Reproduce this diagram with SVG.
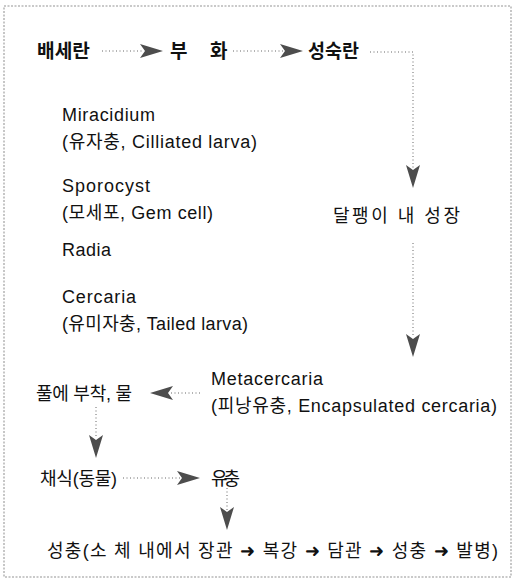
<svg xmlns="http://www.w3.org/2000/svg" xmlns:xlink="http://www.w3.org/1999/xlink" width="516" height="583" viewBox="0 0 516 583">
<style>
  .t { font-family: "Liberation Sans", "Noto Sans CJK KR", sans-serif; font-size: 18px; fill: #111; }
  .b { font-weight: bold; font-size: 19px; }
  .c { fill: none; stroke: #666; stroke-width: 1; stroke-dasharray: 1 2.5; }
  .ah { fill: #4d4d4d; }
  .frame { fill: none; stroke: #b8b8b8; stroke-width: 1.6; stroke-dasharray: 2 1.5; }
</style>
<defs>
  <path id="ah" d="M0,0 L-23,-7 L-18,0 L-23,7 Z"/>
</defs>
<rect class="frame" x="4" y="6" width="507" height="571"/>

<g id="connectors">
  <line class="c" x1="102" y1="51" x2="142" y2="51"/>
  <use href="#ah" class="ah" transform="translate(163,51)"/>
  <line class="c" x1="233" y1="51" x2="284" y2="51"/>
  <use href="#ah" class="ah" transform="translate(303,51)"/>
  <path class="c" d="M370,52 H413 V168"/>
  <use href="#ah" class="ah" transform="translate(413,188) rotate(90)"/>
  <line class="c" x1="413" y1="243" x2="413" y2="336"/>
  <use href="#ah" class="ah" transform="translate(413,357) rotate(90)"/>
  <line class="c" x1="200" y1="393" x2="170" y2="393"/>
  <use href="#ah" class="ah" transform="translate(150,393) rotate(180)"/>
  <line class="c" x1="96" y1="407" x2="96" y2="438"/>
  <use href="#ah" class="ah" transform="translate(96,458) rotate(90)"/>
  <line class="c" x1="123" y1="478" x2="180" y2="478"/>
  <use href="#ah" class="ah" transform="translate(200,478)"/>
  <line class="c" x1="227" y1="488" x2="227" y2="510"/>
  <use href="#ah" class="ah" transform="translate(227,530) rotate(90)"/>
</g>

<g id="n-baeseran"><text class="t b" x="37" y="58" textLength="53" lengthAdjust="spacingAndGlyphs">배세란</text></g>
<g id="n-buhwa"><text class="t b" x="170" y="58">부</text><text class="t b" x="210" y="58">화</text></g>
<g id="n-seongsukran"><text class="t b" x="308" y="58" textLength="51" lengthAdjust="spacingAndGlyphs">성숙란</text></g>

<g id="n-miracidium">
  <text class="t" x="62" y="121" textLength="93" lengthAdjust="spacing">Miracidium</text>
  <text class="t" x="62" y="148" textLength="195" lengthAdjust="spacing">(유자충, Cilliated larva)</text>
</g>
<g id="n-sporocyst">
  <text class="t" x="62" y="192" textLength="88" lengthAdjust="spacing">Sporocyst</text>
  <text class="t" x="62" y="219" textLength="151" lengthAdjust="spacing">(모세포, Gem cell)</text>
</g>
<g id="n-radia">
  <text class="t" x="62" y="256" textLength="49" lengthAdjust="spacing">Radia</text>
</g>
<g id="n-cercaria">
  <text class="t" x="62" y="303" textLength="74" lengthAdjust="spacing">Cercaria</text>
  <text class="t" x="62" y="330" textLength="186" lengthAdjust="spacing">(유미자충, Tailed larva)</text>
</g>
<g id="n-snail">
  <text class="t" x="333" y="222" textLength="127" lengthAdjust="spacing">달팽이 내 성장</text>
</g>
<g id="n-metacercaria">
  <text class="t" x="211" y="385" textLength="112" lengthAdjust="spacing">Metacercaria</text>
  <text class="t" x="211" y="412" textLength="286" lengthAdjust="spacing">(피낭유충, Encapsulated cercaria)</text>
</g>
<g id="n-grass">
  <text class="t" x="36" y="400" textLength="96" lengthAdjust="spacing">풀에 부착, 물</text>
</g>
<g id="n-eat">
  <text class="t" x="40" y="485" textLength="77" lengthAdjust="spacing">채식(동물)</text>
</g>
<g id="n-larva">
  <text class="t" x="211" y="485" textLength="29" lengthAdjust="spacing">유충</text>
</g>
<g id="n-adult">
  <text class="t" x="47" y="557" textLength="451" lengthAdjust="spacing">성충(소 체 내에서 장관 ➜ 복강 ➜ 담관 ➜ 성충 ➜ 발병)</text>
</g>
</svg>
